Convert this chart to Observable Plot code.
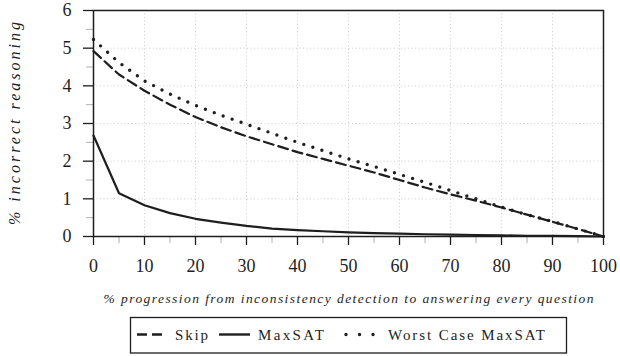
<!DOCTYPE html>
<html>
<head>
<meta charset="utf-8">
<script src="https://cdn.jsdelivr.net/npm/d3@7"></script>
<script src="https://cdn.jsdelivr.net/npm/@observablehq/plot@0.6"></script>
<style>
  html, body { margin: 0; padding: 0; background: #fff; }
  #wrap { position: relative; width: 620px; height: 356px; overflow: hidden; }
  #wrap svg, #wrap svg text { font-family: "Liberation Serif", "DejaVu Serif", "Times New Roman", serif !important; }
</style>
</head>
<body>
<div id="wrap"></div>
<script>
// ---- data ----
const progression = [0, 5, 10, 15, 20, 25, 30, 35, 40, 45, 50, 55, 60, 65, 70, 75, 80, 85, 90, 95, 100];
const skipValues   = [4.92, 4.30, 3.87, 3.50, 3.17, 2.90, 2.66, 2.45, 2.24, 2.06, 1.88, 1.70, 1.50, 1.30, 1.12, 0.95, 0.77, 0.58, 0.39, 0.20, 0.0];
const maxsatValues = [2.68, 1.15, 0.83, 0.62, 0.47, 0.37, 0.28, 0.21, 0.17, 0.14, 0.11, 0.09, 0.075, 0.06, 0.05, 0.04, 0.03, 0.02, 0.015, 0.01, 0.0];
const worstValues  = [5.23, 4.62, 4.13, 3.78, 3.48, 3.22, 2.98, 2.74, 2.50, 2.28, 2.06, 1.86, 1.65, 1.44, 1.22, 1.00, 0.78, 0.58, 0.40, 0.20, 0.0];
const seriesNames = ["Skip", "MaxSAT", "Worst Case MaxSAT"];
const xTicks = [0, 10, 20, 30, 40, 50, 60, 70, 80, 90, 100];
const xMinorTicks = [5, 15, 25, 35, 45, 55, 65, 75, 85, 95];
const yTicks = [0, 1, 2, 3, 4, 5, 6];
const yMinorTicks = [0.5, 1.5, 2.5, 3.5, 4.5, 5.5];
const xLabel = "% progression from inconsistency detection to answering every question";
const yLabel = "% incorrect reasoning";

const rows = (vals) => progression.map((x, i) => ({x, y: vals[i]}));
const ink = "#1e1e1e";
const font = "Liberation Serif, DejaVu Serif, Times New Roman, serif";

const chart = Plot.plot({
  width: 620,
  height: 310,
  marginLeft: 93,
  marginRight: 17,
  marginTop: 10,
  marginBottom: 74,
  style: {fontFamily: font, fontSize: "18px", background: "#fff", color: ink},
  x: {domain: [0, 100]},
  y: {domain: [0, 6]},
  marks: [
    Plot.gridX(xTicks.slice(1, -1), {stroke: "#cfcfcf", strokeOpacity: 1, strokeDasharray: "1,2.5", strokeWidth: 1}),
    Plot.gridY(yTicks.slice(1, -1), {stroke: "#cfcfcf", strokeOpacity: 1, strokeDasharray: "1,2.5", strokeWidth: 1}),
    Plot.axisX({ticks: xMinorTicks, tickSize: 7, stroke: "#b0b0b0", text: null, label: null}),
    Plot.axisY({ticks: yMinorTicks, tickSize: 7, stroke: "#b0b0b0", text: null, label: null}),
    Plot.axisX({ticks: xTicks, tickFormat: (d) => String(d), tickSize: 9, tickPadding: 14, stroke: ink, strokeWidth: 1.3, fontSize: 18,
      label: xLabel, labelAnchor: "center", labelArrow: "none", labelOffset: 66}),
    Plot.axisY({ticks: yTicks, tickFormat: (d) => String(d), tickSize: 10, tickPadding: 12, stroke: ink, strokeWidth: 1.3, fontSize: 18,
      label: yLabel, labelAnchor: "center", labelArrow: "none", labelOffset: 85}),
    Plot.line(rows(maxsatValues), {x: "x", y: "y", stroke: ink, strokeWidth: 2.2}),
    Plot.line(rows(skipValues), {x: "x", y: "y", stroke: ink, strokeWidth: 2.2, strokeDasharray: "10,5"}),
    Plot.line(rows(worstValues), {x: "x", y: "y", stroke: ink, strokeWidth: 3.4, strokeDasharray: "0,9.5", strokeLinecap: "round"}),
    Plot.frame({stroke: ink, strokeWidth: 1.5})
  ]
});

// style axis labels (italic, spaced like the reference)
chart.querySelectorAll("text").forEach((t) => {
  t.setAttribute("font-family", font);
  const s = t.textContent;
  if (s === xLabel) {
    t.setAttribute("font-style", "italic");
    t.style.fontStyle = "italic";
    t.setAttribute("font-size", "13.5");
    t.setAttribute("textLength", "490");
    t.setAttribute("lengthAdjust", "spacing");
  } else if (s === yLabel) {
    t.setAttribute("font-style", "italic");
    t.style.fontStyle = "italic";
    t.setAttribute("font-size", "16");
    t.setAttribute("textLength", "203");
    t.setAttribute("lengthAdjust", "spacing");
  }
});

const wrap = document.getElementById("wrap");
wrap.appendChild(chart);

// legend (below the chart)
const ns = "http://www.w3.org/2000/svg";
const leg = document.createElementNS(ns, "svg");
leg.setAttribute("width", 620);
leg.setAttribute("height", 46);
leg.style.display = "block";
const box = document.createElementNS(ns, "rect");
box.setAttribute("x", 130.5); box.setAttribute("y", 7.5);
box.setAttribute("width", 436); box.setAttribute("height", 35.5);
box.setAttribute("fill", "none"); box.setAttribute("stroke", ink); box.setAttribute("stroke-width", 1.3);
leg.appendChild(box);
const items = [
  {name: seriesNames[0], x0: 137, x1: 167, tx: 175, tw: 33, dash: "10,5", width: 2.4, cap: "butt"},
  {name: seriesNames[1], x0: 219, x1: 250, tx: 258, tw: 66, dash: null, width: 2.4, cap: "butt"},
  {name: seriesNames[2], x0: 346, x1: 374, tx: 388, tw: 157, dash: "0,13.5", width: 3.4, cap: "round"}
];
const ly = 24.5;
items.forEach((it) => {
  const l = document.createElementNS(ns, "line");
  l.setAttribute("x1", it.x0); l.setAttribute("x2", it.x1);
  l.setAttribute("y1", ly); l.setAttribute("y2", ly);
  l.setAttribute("stroke", ink); l.setAttribute("stroke-width", it.width);
  l.setAttribute("stroke-linecap", it.cap);
  if (it.dash) l.setAttribute("stroke-dasharray", it.dash);
  leg.appendChild(l);
  const t = document.createElementNS(ns, "text");
  t.setAttribute("x", it.tx); t.setAttribute("y", 29.5);
  t.setAttribute("font-size", 15);
  t.setAttribute("font-family", font);
  t.setAttribute("fill", ink);
  t.setAttribute("textLength", it.tw);
  t.setAttribute("lengthAdjust", "spacing");
  t.textContent = it.name;
  leg.appendChild(t);
});
wrap.appendChild(leg);
</script>
</body>
</html>
